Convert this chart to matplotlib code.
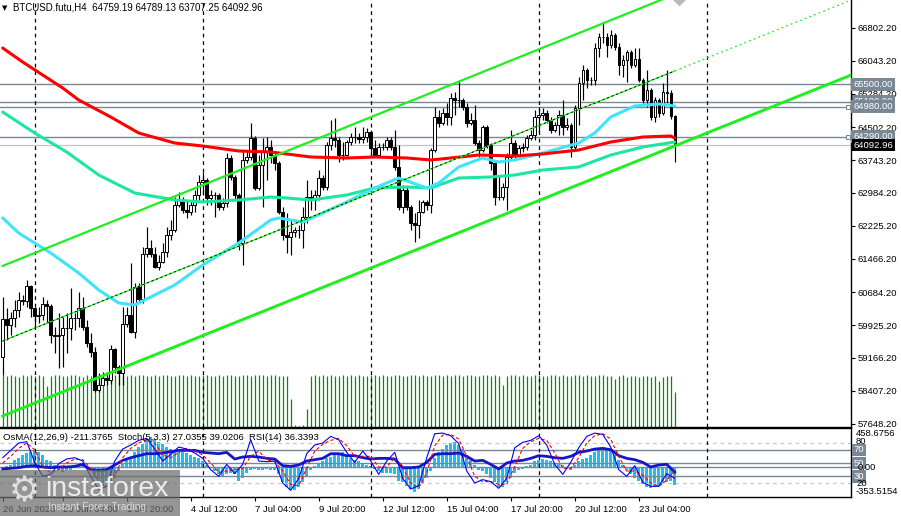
import numpy as np
import matplotlib
matplotlib.use("Agg")
import matplotlib.pyplot as plt
from matplotlib.patches import Rectangle
from matplotlib.transforms import blended_transform_factory as btf

plt.rcParams['font.family'] = ['Liberation Sans', 'DejaVu Sans']

# ------------------------------------------------------------------ data
first_open = 59189
close = [
    60069, 59929, 60092, 60277, 60508, 60485, 60832, 60323, 60138, 60161,
    60415, 60369, 59698, 59675, 59698, 59860, 59860, 60092, 60092, 60323,
    59883, 59513, 59305, 58425, 58541, 58703, 58657, 59374, 58958, 58819,
    59953, 60161, 59767, 60809, 60531, 61572, 61711, 61572, 61272, 61387,
    61619, 62012, 62128, 62706, 62822, 62591, 62544, 62706, 62937, 63238,
    63285, 62868, 62937, 62937, 62660, 62753, 63794, 63354, 62937, 61827,
    63748, 63817, 64257, 63100, 63632, 63933, 64048, 63863, 63678, 62544,
    62012, 61966, 62081, 62128, 62128, 62429, 62891, 62822, 62937, 63331,
    63123, 64095, 64257, 64210, 63863, 63863, 64164, 64280, 64280, 64234,
    64280, 64395, 64025, 63863, 64048, 64048, 64210, 64048, 63586, 62660,
    63053, 62660, 62290, 62243, 62544, 62776, 62706, 63979, 64743, 64604,
    64835, 64743, 65182, 65136, 65136, 64974, 64604, 64673, 64141, 63979,
    64511, 64095, 63678, 62891, 62891, 63123, 63817, 64141, 63863, 64025,
    64048, 64257, 64326, 64743, 64789, 64835, 64673, 64442, 64557, 64789,
    64511, 64557, 64048, 64951, 65530, 65830, 65599, 65599, 66339, 66594,
    66594, 66409, 66640, 66362, 65946, 66062, 66247, 65946, 66085, 65599,
    65136, 65367, 64743, 65136, 64835, 65321, 65298, 64759.19, 64092.96]
high = [
    60577, 60323, 60230, 60508, 60693, 60623, 60971, 60855, 60346, 60346,
    60577, 60508, 60415, 59883, 60207, 60115, 60207, 60786, 60207, 60693,
    60577, 60045, 59744, 59420, 58819, 58842, 58842, 59467, 59397, 59004,
    60346, 60346, 61364, 60902, 60902, 61734, 62197, 61896, 61734, 61549,
    61827, 62197, 62359, 62891, 63007, 62891, 62822, 62822, 63053, 63400,
    63470, 63330, 63053, 63007, 62990, 62868, 63910, 63863, 63400, 62984,
    63979, 63979, 64604, 64300, 63863, 64257, 64280, 64210, 63900, 63720,
    62660, 62521, 62359, 62197, 62243, 62660, 63285, 63053, 63053, 63516,
    63400, 64164, 64673, 64720, 64280, 64164, 64210, 64372, 64511, 64372,
    64511, 64488, 64442, 64210, 64141, 64141, 64280, 64280, 64442, 64095,
    63169, 63123, 62700, 62521, 62822, 62822, 62822, 64025, 64974, 64905,
    64951, 65067, 65298, 65321, 65599, 65182, 65067, 64835, 65021, 64210,
    64557, 64557, 64141, 63701, 63400, 63215, 63910, 64442, 64210, 64095,
    64141, 64326, 64442, 64905, 64974, 64951, 64905, 64743, 64627, 64905,
    65136, 64720, 64604, 65021, 65668, 65946, 65880, 65668, 66455, 66686,
    66941, 66686, 66756, 66686, 66455, 66177, 66293, 66293, 66339, 66339,
    65645, 65830, 65420, 65205, 65182, 65530, 65830, 65367, 64789.13]
low = [
    58772, 59582, 59698, 59883, 60115, 60392, 60346, 60115, 59883, 59976,
    60045, 59976, 59513, 59282, 58935, 58958, 59282, 59582, 59814, 59883,
    59814, 59420, 59189, 58379, 58379, 58541, 58541, 58564, 58819, 58541,
    58541, 59883, 59744, 59629, 60439, 60439, 61503, 61503, 61249, 61202,
    61364, 61503, 61896, 62081, 62660, 62521, 62406, 62475, 62544, 62822,
    62937, 62706, 62706, 62429, 62591, 62591, 62660, 63285, 62822, 61665,
    61318, 63678, 63748, 63053, 63053, 62660, 63285, 63678, 63516, 62498,
    61896, 61596, 61549, 61966, 61943, 61711, 62290, 62591, 62591, 62822,
    63053, 63053, 63979, 64048, 63701, 63748, 63840, 64095, 64141, 64141,
    64141, 64164, 63817, 63817, 63840, 63979, 63979, 63979, 63516, 62591,
    62521, 62591, 62128, 61850, 61943, 62521, 62591, 62521, 63933, 64511,
    64557, 64557, 64557, 64789, 64974, 64905, 64511, 64557, 64095, 63817,
    63933, 64025, 63516, 62706, 62822, 62822, 62591, 63748, 63794, 63863,
    63933, 63979, 64210, 64210, 64372, 64673, 64604, 64372, 64395, 64326,
    64326, 64442, 63817, 63979, 64557, 65136, 65414, 65483, 65483, 66131,
    66455, 66131, 66339, 66293, 65714, 65668, 65553, 65877, 65900, 65553,
    65067, 64974, 64673, 64627, 64743, 64790, 65067, 64700, 63707.25]
volume = [
    98, 96, 99, 97, 95, 98, 96, 99, 97, 98,
    96, 78, 97, 99, 98, 96, 97, 98, 99, 97,
    95, 98, 97, 99, 98, 96, 97, 95, 98, 99,
    97, 96, 98, 97, 99, 98, 96, 97, 98, 97,
    99, 98, 97, 96, 98, 99, 97, 98, 96, 97,
    98, 99, 97, 96, 98, 97, 99, 98, 97, 96,
    98, 99, 97, 98, 99, 98, 97, 99, 98, 97,
    96, 97, 52, 3, 2, 3, 34, 97, 98, 96,
    98, 97, 99, 96, 97, 98, 97, 99, 96, 98,
    97, 96, 98, 99, 97, 98, 96, 97, 99, 98,
    97, 96, 98, 99, 97, 98, 96, 97, 98, 99,
    97, 98, 96, 99, 98, 97, 99, 98, 96, 97,
    98, 99, 97, 98, 96, 80, 97, 98, 99, 97,
    98, 96, 97, 99, 98, 97, 96, 98, 99, 97,
    98, 97, 96, 99, 98, 97, 98, 96, 97, 99,
    98, 97, 96, 90, 97, 98, 95, 96, 97, 95,
    96, 97, 94, 96, 86, 95, 97, 96, 66]

red_ma_idx = [0, 5, 10, 15, 19, 27, 34, 43, 50, 59, 67, 71, 77, 86, 93, 101,
              107, 112, 119, 128, 135, 144, 152, 160, 167, 168]
red_ma_val = [66339, 66015, 65714, 65414, 65136, 64743, 64372, 64141, 64071,
              63956, 63933, 63887, 63817, 63794, 63817, 63794, 63748, 63794,
              63863, 63840, 63887, 63979, 64164, 64280, 64303, 64257]
teal_ma_idx = [0, 8, 16, 24, 33, 43, 50, 59, 67, 71, 77, 86, 93, 101, 107, 114,
               122, 128, 135, 144, 152, 160, 168]
teal_ma_val = [64858, 64372, 63933, 63400, 62984, 62822, 62776, 62822, 62891,
               62868, 62822, 62937, 63100, 63123, 63100, 63331, 63354, 63400,
               63516, 63586, 63863, 64048, 64164]
cyan_ma_idx = [0, 4, 12, 19, 24, 29, 33, 38, 43, 50, 59, 67, 69, 75, 80, 86, 93,
               99, 106, 109, 114, 120, 124, 128, 135, 144, 148, 152, 158, 164, 168]
cyan_ma_val = [62406, 62058, 61596, 61133, 60739, 60439, 60392, 60624, 60855,
               61318, 61827, 62359, 62406, 62313, 62521, 62776, 63100, 63331,
               63100, 63215, 63586, 63794, 63701, 63748, 63910, 64141, 64372,
               64743, 64998, 65044, 64998]

channel_idx = [0, 212]
channel_upper = [61297, 69226]
channel_mid = [59559, 67445]
channel_lower = [57824, 65710]

level_prices = [65500.00, 65100.00, 64980.00, 64290.00]
last_price = 64092.96
price_ticks = [66802.2, 66043.2, 65284.2, 64502.2, 63743.2, 62984.2, 62225.2,
               61466.2, 60684.2, 59925.2, 59166.2, 58407.2, 57648.2]

osma = [
    4, 12, 31, 90, 110, 149, 169, 188, 196, 188,
    149, 90, 71, 31, -27, -55, -39, -27, 3, 12,
    24, -2, -47, -125, -184, -223, -204, -165, -125, -47,
    51, 90, 129, 188, 247, 286, 345, 365, 345, 306,
    286, 247, 227, 208, 196, 188, 169, 149, 129, 110,
    71, 31, -8, -47, -86, -106, -86, -67, -86, -165,
    -125, -67, -27, -16, -27, -27, -16, -27, -39, -86,
    -184, -243, -282, -282, -243, -184, -106, -27, 12, 51,
    71, 110, 129, 149, 169, 188, 149, 118, 90, 71,
    51, 31, 12, -16, -47, -67, -67, -67, -86, -165,
    -184, -223, -263, -302, -263, -204, -125, -47, 110, 188,
    227, 267, 298, 306, 267, 227, 149, 90, 31, -27,
    -47, -86, -125, -184, -243, -243, -184, -125, -67, -39,
    -16, 12, 31, 71, 90, 102, 90, 71, 51, 39,
    24, 8, -27, 31, 71, 102, 118, 149, 188, 220,
    227, 220, 196, 149, 90, 31, -27, -86, -125, -165,
    -204, -243, -251, -243, -223, -204, -184, -165, -211.38]

osc_idx = list(range(0, 169, 2))
stoch_main = [
    58, 69, 80, 82, 51, 30, 33, 49, 56, 58,
    53, 30, 10, 15, 53, 71, 77, 84, 87, 71,
    53, 63, 74, 71, 65, 57, 40, 30, 48, 34,
    48, 85, 53, 52, 53, 20, 9, 27, 64, 77,
    80, 90, 85, 66, 51, 68, 53, 33, 53, 66,
    27, 11, 16, 58, 94, 95, 91, 79, 38, 20,
    25, 22, 12, 27, 73, 81, 84, 91, 77, 48,
    33, 51, 73, 90, 95, 93, 74, 40, 30, 46,
    21, 15, 15, 34, 27.04]
stoch_signal = [
    50, 60, 72, 80, 70, 45, 35, 40, 50, 56,
    55, 42, 22, 13, 30, 58, 72, 80, 85, 80,
    62, 58, 66, 72, 68, 62, 50, 36, 38, 40,
    42, 60, 68, 55, 52, 38, 18, 16, 42, 68,
    78, 84, 87, 76, 60, 60, 60, 44, 44, 58,
    44, 20, 13, 35, 76, 92, 93, 86, 60, 30,
    22, 22, 18, 18, 45, 72, 82, 87, 84, 65,
    42, 42, 58, 80, 91, 94, 86, 60, 38, 38,
    32, 20, 15, 24, 39.02]
rsi = [
    41, 42, 43, 45, 46, 44, 43, 44, 44, 45,
    48, 40, 39, 40, 47, 54, 58, 61, 64, 64,
    65, 67, 69, 69, 69, 66, 65, 64, 66, 56,
    59, 60, 59, 57, 56, 46, 45, 47, 53, 55,
    57, 64, 64, 61, 61, 58, 56, 57, 57, 56,
    43, 43, 44, 51, 63, 64, 64, 65, 60, 53,
    54, 48, 41, 50, 53, 54, 57, 61, 60, 58,
    57, 60, 66, 68, 71, 72, 70, 61, 57, 55,
    51, 44, 47, 48, 36.34]
osc_levels_solid = [70, 50, 30]
osc_levels_dashed = [80, 20]

time_tick_idx = [0, 15, 31, 47, 63, 79, 95, 111, 127, 143, 159]
time_tick_labels = ['26 Jun 2026', '29 Jun 04:00', '1 Jul 20:00', '4 Jul 12:00',
                    '7 Jul 04:00', '9 Jul 20:00', '12 Jul 12:00', '15 Jul 04:00',
                    '17 Jul 20:00', '20 Jul 12:00', '23 Jul 04:00']
separator_idx = [8, 50, 92, 134, 176]

header = 'BTCUSD.futu,H4  64759.19 64789.13 63707.25 64092.96'
osc_header = 'OsMA(12,26,9) -211.3765  Stoch(5,3,3) 27.0355 39.0206  RSI(14) 36.3393'

# ------------------------------------------------------------------ layout
W, H = 901, 516
fig = plt.figure(figsize=(W / 100, H / 100), dpi=100, facecolor='white')


def fx(px):
    return px / W


def fy(py):
    return 1 - py / H


XMIN, XMAX = -0.675, 212.06
main_rect = [0, fy(427), fx(851), 427 / H]
sub_rect = [0, fy(497), fx(851), 69 / H]
FS = 6.8
GRID = '#7a8896'
LIME = '#1ef01e'

idx = np.arange(len(close))
c = np.array(close, dtype=float)
o = np.concatenate([[first_open], c[:-1]])
hi = np.array(high, dtype=float)
lo = np.array(low, dtype=float)

# volume (drawn underneath)
axv = fig.add_axes(main_rect)
axv.set_xlim(XMIN, XMAX)
axv.set_ylim(0, 806)
axv.axis('off')
axv.vlines(idx, 0, volume, color='#0a8a0a', lw=0.9)

# main price axes
ax = fig.add_axes(main_rect, facecolor='none')
ax.set_xlim(XMIN, XMAX)
ax.set_ylim(57569, 67450)
for s in ['left', 'top']:
    ax.spines[s].set_visible(False)
for s in ['right', 'bottom']:
    ax.spines[s].set_linewidth(1.0)
ax.set_xticks([])
ax.yaxis.tick_right()
ax.set_yticks(price_ticks)
ax.set_yticklabels([f'{v:.2f}' for v in price_ticks])
ax.tick_params(axis='y', direction='out', length=3, width=0.8, pad=2, labelsize=FS)

for p in level_prices:
    ax.axhline(p, color=GRID, lw=1.0, zorder=1)
ax.axhline(last_price, color='#c4c4c4', lw=0.9, zorder=1)
for p in [64980.00, 64290.00]:
    ax.plot([211.35], [p], marker='s', ms=3.2, mfc='white', mec=GRID, mew=0.8,
            zorder=6, clip_on=False)

for s in separator_idx:
    ax.axvline(s, color='black', lw=0.9, ls=(0, (3, 3)), zorder=1.5)

# candles
bull = c >= o
ax.vlines(idx, lo, hi, color='black', lw=0.85, zorder=2.5)
body_bottom = np.minimum(o, c)
body_h = np.maximum(np.abs(c - o), 8)
ax.bar(idx, body_h, bottom=body_bottom, width=0.62,
       color=['white' if b else 'black' for b in bull],
       edgecolor='black', linewidth=0.7, zorder=2.6)

# moving averages
ax.plot(teal_ma_idx, teal_ma_val, color='#1de6a2', lw=2.2, zorder=3,
        solid_capstyle='round')
ax.plot(cyan_ma_idx, cyan_ma_val, color='#3fe4fb', lw=2.2, zorder=3.1,
        solid_capstyle='round')
ax.plot(red_ma_idx, red_ma_val, color='#ff0000', lw=2.2, zorder=3.2,
        solid_capstyle='round')

# channel
last_i = idx[-1]
mid_last = np.interp(last_i, channel_idx, channel_mid)
ax.plot(channel_idx, channel_upper, color=LIME, lw=1.6, zorder=4)
ax.plot(channel_idx, channel_lower, color=LIME, lw=2.1, zorder=4)
ax.plot([channel_idx[0], last_i], [channel_mid[0], mid_last], color=LIME, lw=0.9, zorder=4)
ax.plot([channel_idx[0], last_i], [channel_mid[0], mid_last], color='black', lw=0.7,
        ls=(0, (2, 3)), zorder=4.1)
ax.plot([last_i, channel_idx[1]], [mid_last, channel_mid[1]], color=LIME, lw=0.9,
        ls=(0, (1.5, 2.5)), zorder=4)

# alert marker at the top edge
ax.plot([169.1], [67525], marker='D', ms=8, color='#b8b8b8', zorder=5)

# right-hand price boxes (65100 box sits under the tick labels, as in MT4)
tb = btf(ax.transAxes, ax.transData)
box_z = {65500.00: 7, 65100.00: 2.4, 64980.00: 7, 64290.00: 7}
for p in level_prices:
    ax.text(1.003, p, f'{p:.2f}', transform=tb, va='center', ha='left', fontsize=FS,
            color='white', clip_on=False, zorder=box_z[p],
            bbox=dict(boxstyle='square,pad=0.22', fc=GRID, ec='none'))
ax.text(1.003, last_price, f'{last_price:.2f}', transform=tb, va='center', ha='left',
        fontsize=FS, color='white', clip_on=False, zorder=8,
        bbox=dict(boxstyle='square,pad=0.2', fc='black', ec='none'))

# ------------------------------------------------------------------ oscillators
axo = fig.add_axes(sub_rect)
axo.set_xlim(XMIN, XMAX)
axo.set_ylim(-362, 479)
axo.axis('off')
axo.axhline(0, color=GRID, lw=1.0)
axo.bar(idx, osma, width=0.7, color='#1fbdf0', lw=0)

sub = fig.add_axes(sub_rect, facecolor='none')
sub.set_xlim(XMIN, XMAX)
sub.set_ylim(-1.05, 102.6)
sub.spines['left'].set_visible(False)
for s in ['right', 'bottom', 'top']:
    sub.spines[s].set_linewidth(1.0)
sub.set_yticks([])
for lv in osc_levels_solid:
    sub.axhline(lv, color=GRID, lw=1.0, zorder=1)
for lv in osc_levels_dashed:
    sub.axhline(lv, color='#c8c8c8', lw=0.9, ls=(0, (3, 3)), zorder=1)
for s in separator_idx:
    sub.axvline(s, color='black', lw=0.9, ls=(0, (3, 3)), zorder=1.5)
sub.plot(osc_idx, rsi, color='#1616c8', lw=2.0, zorder=3)
sub.plot(osc_idx, stoch_main, color='#0000ff', lw=0.8, zorder=3.2)
sub.plot(osc_idx, stoch_signal, color='#ff0000', lw=0.8, ls=(0, (3, 2)), zorder=3.1)

sub.set_xticks(time_tick_idx)
sub.set_xticklabels(time_tick_labels)
sub.tick_params(axis='x', direction='out', length=3, width=0.8, pad=3, labelsize=FS)
for lbl in sub.get_xticklabels():
    lbl.set_horizontalalignment('left')

# oscillator right-hand labels
fig.text(fx(856), fy(434), '458.6756', fontsize=FS, va='center', ha='left')
fig.text(fx(856), fy(442), '80', fontsize=FS, va='center', ha='left')
ts = btf(sub.transAxes, sub.transData)
for lv in osc_levels_solid:
    sub.text(1.003, lv, f'{lv}', transform=ts, va='center', ha='left', fontsize=FS,
             color='white', clip_on=False, zorder=7,
             bbox=dict(boxstyle='square,pad=0.18', fc=GRID, ec='none'))
fig.text(fx(858), fy(467.5), '0.00', fontsize=FS, va='center', ha='left', zorder=8)
fig.text(fx(856), fy(483), '20', fontsize=FS, va='center', ha='left')
fig.text(fx(856), fy(491), '-353.5154', fontsize=FS, va='center', ha='left')

# headers
fig.text(fx(2), fy(8), '\u25BC', fontsize=5, va='center', ha='left',
         family='DejaVu Sans')
fig.text(fx(13), fy(8), header, fontsize=7, va='center', ha='left')
fig.text(fx(3), fy(437), osc_header, fontsize=FS, va='center', ha='left', zorder=5)

# watermark logo
fig.add_artist(Rectangle((0, 0), fx(180), 46 / H, transform=fig.transFigure,
                         fc='#6c6c6c', ec='none', alpha=0.72, zorder=20))
fig.text(fx(24), fy(491), '\u2699', fontsize=25, color='#e0e0e0', va='center',
         ha='center', family='DejaVu Sans', zorder=21)
fig.text(fx(45), fy(496), 'instaforex', fontsize=20.5, color='#ececec', va='baseline',
         ha='left', zorder=21)
fig.text(fx(48), fy(507), 'Instant Forex Trading', fontsize=7.5, color='#d8d8d8',
         va='center', ha='left', zorder=21)

fig.savefig('out.png', dpi=100, facecolor='white')
